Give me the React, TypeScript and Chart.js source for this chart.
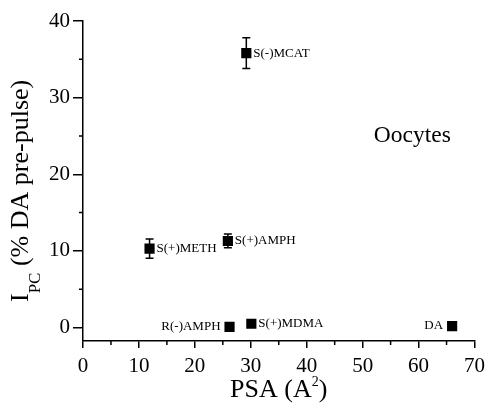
import React, { useEffect, useRef } from 'react';
import { Chart, registerables } from 'chart.js';

Chart.register(...registerables);

const compounds = ['S(-)MCAT', 'S(+)METH', 'S(+)AMPH', 'R(-)AMPH', 'S(+)MDMA', 'DA'];
const psa = [29.2, 11.9, 25.9, 26.2, 30.1, 66.0];
const ipc = [35.8, 10.3, 11.3, 0.1, 0.5, 0.2];
const ipcErr = [2.0, 1.25, 0.9, 0, 0, 0];
const labelSide = ['right', 'right', 'right', 'left', 'right', 'left'];
const xTicks = [0, 10, 20, 30, 40, 50, 60, 70];
const yTicks = [0, 10, 20, 30, 40];
const xMinorTicks = [5, 15, 25, 35, 45, 55, 65];
const yMinorTicks = [5, 15, 25, 35];
const panelLabel = 'Oocytes';
const panelLabelPos = { x: 52.0, y: 25.0 };

const FONT = "'Liberation Serif', 'Times New Roman', serif";

type Part = { t: string; s: number; dy?: number };

function drawParts(ctx: CanvasRenderingContext2D, parts: Part[], x: number, y: number) {
  let cx = x;
  for (const p of parts) {
    ctx.font = `${p.s}px ${FONT}`;
    ctx.fillText(p.t, cx, y + (p.dy || 0));
    cx += ctx.measureText(p.t).width;
  }
}
function partsWidth(ctx: CanvasRenderingContext2D, parts: Part[]) {
  let w = 0;
  for (const p of parts) {
    ctx.font = `${p.s}px ${FONT}`;
    w += ctx.measureText(p.t).width;
  }
  return w;
}

const annotPlugin = {
  id: 'annot',
  beforeDatasetsDraw(chart: any) {
    const ctx = chart.ctx as CanvasRenderingContext2D;
    const xs = chart.scales.x;
    const ys = chart.scales.y;
    ctx.save();
    ctx.strokeStyle = '#000';
    ctx.lineWidth = 1.5;
    psa.forEach((xv, i) => {
      const e = ipcErr[i];
      if (!e) return;
      const px = xs.getPixelForValue(xv);
      const top = ys.getPixelForValue(ipc[i] + e);
      const bot = ys.getPixelForValue(ipc[i] - e);
      ctx.beginPath();
      ctx.moveTo(px, top);
      ctx.lineTo(px, bot);
      ctx.moveTo(px - 4, top);
      ctx.lineTo(px + 4, top);
      ctx.moveTo(px - 4, bot);
      ctx.lineTo(px + 4, bot);
      ctx.stroke();
    });
    ctx.restore();
  },
  afterDraw(chart: any) {
    const ctx = chart.ctx as CanvasRenderingContext2D;
    const xs = chart.scales.x;
    const ys = chart.scales.y;
    const area = chart.chartArea;
    ctx.save();
    ctx.strokeStyle = '#000';
    ctx.fillStyle = '#000';
    ctx.lineWidth = 1.5;
    // minor ticks
    ctx.beginPath();
    xMinorTicks.forEach((v) => {
      const px = xs.getPixelForValue(v);
      ctx.moveTo(px, area.bottom);
      ctx.lineTo(px, area.bottom + 4);
    });
    yMinorTicks.forEach((v) => {
      const py = ys.getPixelForValue(v);
      ctx.moveTo(area.left, py);
      ctx.lineTo(area.left - 4, py);
    });
    ctx.stroke();

    // point labels
    ctx.font = `13px ${FONT}`;
    ctx.textBaseline = 'middle';
    compounds.forEach((name, i) => {
      const px = xs.getPixelForValue(psa[i]);
      const py = ys.getPixelForValue(ipc[i]);
      if (labelSide[i] === 'left') {
        ctx.textAlign = 'right';
        ctx.fillText(name, px - 9, py);
      } else {
        ctx.textAlign = 'left';
        ctx.fillText(name, px + 7, py);
      }
    });

    // panel label
    ctx.font = `23.5px ${FONT}`;
    ctx.textAlign = 'left';
    ctx.textBaseline = 'middle';
    ctx.fillText(panelLabel, xs.getPixelForValue(panelLabelPos.x), ys.getPixelForValue(panelLabelPos.y));

    // x title
    ctx.textBaseline = 'alphabetic';
    const xParts: Part[] = [
      { t: 'PSA (A', s: 26 },
      { t: '2', s: 14, dy: -11 },
      { t: ')', s: 26 },
    ];
    const xw = partsWidth(ctx, xParts);
    drawParts(ctx, xParts, (area.left + area.right) / 2 - xw / 2, 397);

    // y title
    const yParts: Part[] = [
      { t: 'I', s: 26 },
      { t: 'PC', s: 17, dy: 12 },
      { t: ' (% DA pre-pulse)', s: 26 },
    ];
    ctx.translate(28, 302);
    ctx.rotate(-Math.PI / 2);
    drawParts(ctx, yParts, 0, 0);
    ctx.restore();
  },
};

export default function App() {
  const ref = useRef<HTMLCanvasElement | null>(null);
  useEffect(() => {
    if (!ref.current) return;
    const chart = new Chart(ref.current, {
      type: 'scatter',
      data: {
        datasets: [
          {
            data: psa.map((x, i) => ({ x, y: ipc[i] })),
            pointStyle: 'rect',
            pointRadius: 7.2,
            pointHoverRadius: 7.2,
            backgroundColor: '#000',
            borderColor: '#000',
            borderWidth: 0,
          },
        ],
      },
      options: {
        responsive: false,
        animation: false,
        events: [],
        layout: { padding: { left: 0, right: 12, top: 21, bottom: 0 } },
        plugins: { legend: { display: false }, tooltip: { enabled: false } },
        scales: {
          x: {
            type: 'linear',
            min: 0,
            max: 70,
            afterBuildTicks: (s: any) => {
              s.ticks = xTicks.map((v) => ({ value: v }));
            },
            afterFit: (s: any) => {
              s.height = 62;
            },
            ticks: {
              color: '#000',
              font: { family: FONT, size: 21 },
              padding: 6,
              maxRotation: 0,
              autoSkip: false,
            },
            grid: { drawOnChartArea: false, drawTicks: true, tickLength: 7, color: '#000', lineWidth: 1.5 },
            border: { display: true, color: '#000', width: 1.5 },
          },
          y: {
            type: 'linear',
            min: -1.75,
            max: 40,
            afterBuildTicks: (s: any) => {
              s.ticks = yTicks.map((v) => ({ value: v }));
            },
            afterFit: (s: any) => {
              s.width = 83;
            },
            ticks: {
              color: '#000',
              font: { family: FONT, size: 21 },
              padding: 3,
              autoSkip: false,
            },
            grid: { drawOnChartArea: false, drawTicks: true, tickLength: 10, color: '#000', lineWidth: 1.5 },
            border: { display: true, color: '#000', width: 1.5 },
          },
        },
      },
      plugins: [annotPlugin],
    });
    return () => chart.destroy();
  }, []);
  return (
    <div style={{ position: 'absolute', left: 0, top: 0, width: 491, height: 403, background: '#fff' }}>
      <canvas ref={ref} width={491} height={403} />
    </div>
  );
}
